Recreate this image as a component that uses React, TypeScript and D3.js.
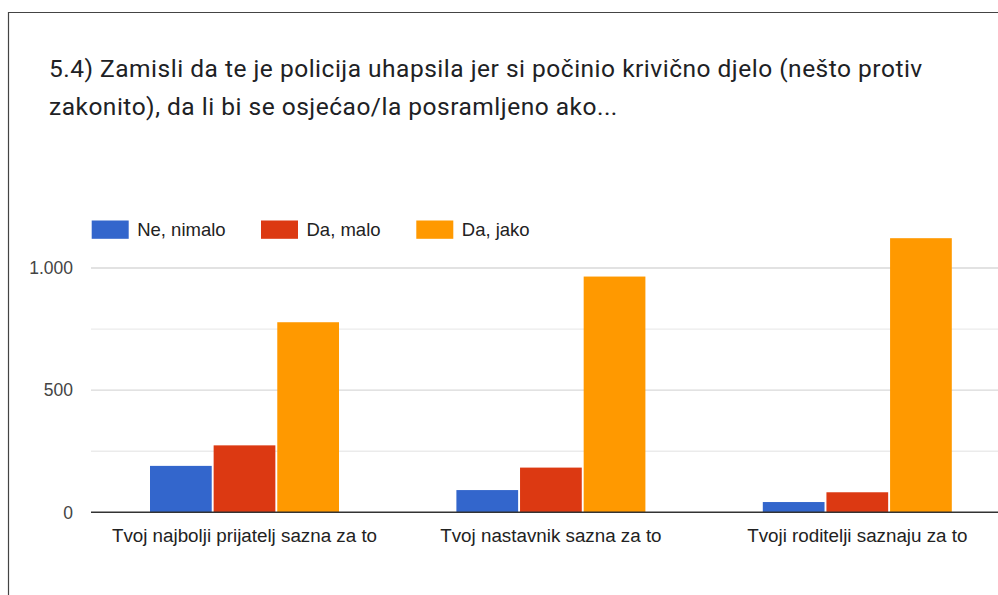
import React from "react";
import * as d3 from "d3";

const categories = [
  "Tvoj najbolji prijatelj sazna za to",
  "Tvoj nastavnik sazna za to",
  "Tvoji roditelji saznaju za to",
];
const seriesNames = ["Ne, nimalo", "Da, malo", "Da, jako"];
const neNimalo = [190, 91, 42];
const daMalo = [274, 183, 82];
const daJako = [778, 965, 1122];
const majorTicks = [0, 500, 1000];
const minorTicks = [250, 750];
const titleLines = [
  "5.4) Zamisli da te je policija uhapsila jer si počinio krivično djelo (nešto protiv",
  "zakonito), da li bi se osjećao/la posramljeno ako...",
];
const colors = ["#3366cc", "#dc3912", "#ff9900"];

const W = 998;
const H = 595;

export default function App() {
  const values = [neNimalo, daMalo, daJako];
  const x0 = d3.scaleBand<string>().domain(categories).range([91.3, 1010.5]);
  const groupW = 189;
  const x1 = d3.scaleBand<string>().domain(seriesNames).range([0, groupW]).paddingInner(0.03);
  const y = d3.scaleLinear().domain([0, 1000]).range([512.3, 268]);
  const locale = d3.formatLocale({ decimal: ",", thousands: ".", grouping: [3], currency: ["", ""] });
  const fmt = locale.format(",d");
  const font = "Arial, 'Liberation Sans', sans-serif";
  const legendX = [91.7, 261, 416.3];

  return (
    <svg
      width={W}
      height={H}
      style={{ position: "absolute", left: 0, top: 0, background: "#fff" }}
    >
      <rect x={0} y={0} width={W} height={H} fill="#fff" />
      <path d={`M8.5,${H} V12.5 H${W}`} fill="none" stroke="#444" strokeWidth={1.2} />
      {titleLines.map((t, i) => (
        <text
          key={i}
          x={49}
          y={77 + i * 37.5}
          fontFamily="Roboto, sans-serif"
          fontSize={24.5}
          letterSpacing={0.5}
          fill="#202124"
        >
          {t}
        </text>
      ))}
      {seriesNames.map((s, i) => (
        <g key={s}>
          <rect x={legendX[i]} y={220.5} width={37} height={18.3} fill={colors[i]} />
          <text x={legendX[i] + 45.5} y={235.8} fontFamily={font} fontSize={18.5} fill="#222">
            {s}
          </text>
        </g>
      ))}
      {minorTicks.map((t) => (
        <line key={"m" + t} x1={91} x2={W} y1={y(t)} y2={y(t)} stroke="#ebebeb" strokeWidth={1.3} />
      ))}
      {majorTicks.map((t) => (
        <g key={"M" + t}>
          {t !== 0 && (
            <line x1={91} x2={W} y1={y(t)} y2={y(t)} stroke="#d9d9d9" strokeWidth={1.3} />
          )}
          <text
            x={73}
            y={y(t)}
            dy="0.36em"
            textAnchor="end"
            fontFamily={font}
            fontSize={17.5}
            fill="#444"
          >
            {fmt(t)}
          </text>
        </g>
      ))}
      {categories.map((c, ci) => {
        const gx = (x0(c) as number) + (x0.bandwidth() - groupW) / 2;
        return (
          <g key={c}>
            {seriesNames.map((s, si) => {
              const v = values[si][ci];
              return (
                <rect
                  key={s}
                  x={gx + (x1(s) as number)}
                  y={y(v)}
                  width={x1.bandwidth()}
                  height={y(0) - y(v)}
                  fill={colors[si]}
                />
              );
            })}
            <text
              x={(x0(c) as number) + x0.bandwidth() / 2}
              y={541.5}
              textAnchor="middle"
              fontFamily={font}
              fontSize={18.8}
              fill="#222"
            >
              {c}
            </text>
          </g>
        );
      })}
      <line x1={91} x2={W} y1={y(0)} y2={y(0)} stroke="#333" strokeWidth={1.4} />
    </svg>
  );
}
